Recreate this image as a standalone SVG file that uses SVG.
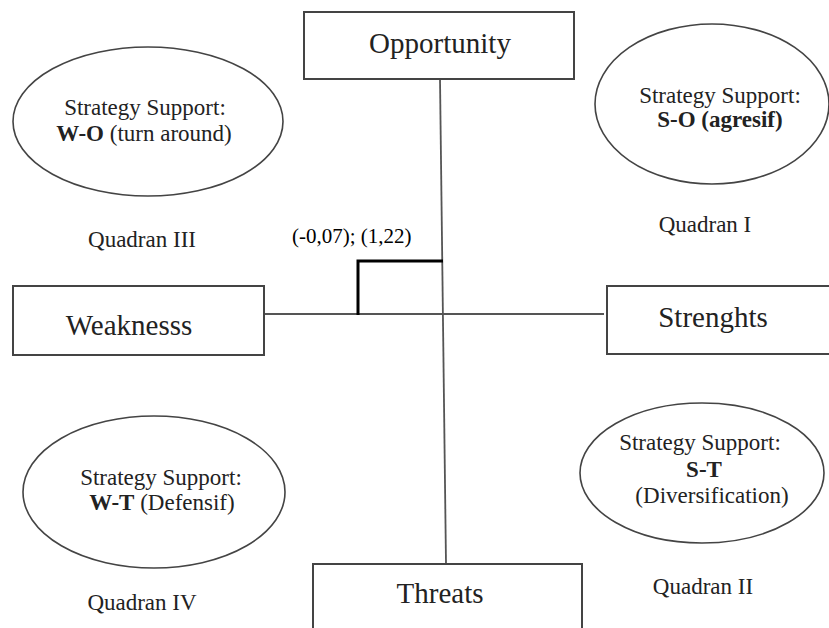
<svg xmlns="http://www.w3.org/2000/svg" width="829" height="628" viewBox="0 0 829 628">
<style>
.box{fill:#fff;stroke:#444;stroke-width:2}
.ell{fill:none;stroke:#444;stroke-width:1.6}
.axis{stroke:#555;stroke-width:1.8;fill:none}
.f{font-family:"Liberation Serif",Tinos,"Times New Roman","DejaVu Serif",serif}
.lbl{font-size:29px;fill:#222;text-anchor:middle}
.st{font-size:23px;fill:#222;text-anchor:middle}
.q{font-size:23px;fill:#222;text-anchor:middle}
.b{font-weight:bold}
</style>
<rect width="829" height="628" fill="#fff"/>
<g id="connectors">
<line class="axis" x1="440" y1="79" x2="446" y2="564"/>
<line class="axis" x1="258" y1="314" x2="604" y2="314"/>
<path d="M358,315 V261 H443" fill="none" stroke="#000" stroke-width="3"/>
</g>
<g id="opportunity">
<rect class="box" x="304" y="12" width="270" height="67"/>
<text class="f lbl" x="440" y="53">Opportunity</text>
</g>
<g id="weakness">
<rect class="box" x="13" y="286" width="251" height="69"/>
<text class="f lbl" x="129" y="335">Weaknesss</text>
</g>
<g id="strenghts">
<rect class="box" x="607" y="286" width="240" height="68"/>
<text class="f lbl" x="713" y="327">Strenghts</text>
</g>
<g id="threats">
<rect class="box" x="313" y="564" width="269" height="80"/>
<text class="f lbl" x="440" y="603">Threats</text>
</g>
<g id="wo">
<ellipse class="ell" cx="148" cy="121.5" rx="135" ry="74.5"/>
<text class="f st" x="145" y="115">Strategy Support:</text>
<text class="f st" x="144" y="141"><tspan class="b">W-O</tspan> (turn around)</text>
</g>
<g id="so">
<ellipse class="ell" cx="712" cy="104" rx="117" ry="80"/>
<text class="f st" x="720" y="103">Strategy Support:</text>
<text class="f st b" x="720" y="127">S-O (agresif)</text>
</g>
<g id="wt">
<ellipse class="ell" cx="154" cy="492" rx="131" ry="76"/>
<text class="f st" x="161" y="485">Strategy Support:</text>
<text class="f st" x="162" y="510"><tspan class="b">W-T</tspan> (Defensif)</text>
</g>
<g id="st">
<ellipse class="ell" cx="702" cy="473" rx="122" ry="70"/>
<text class="f st" x="700" y="450">Strategy Support:</text>
<text class="f st b" x="704" y="477">S-T</text>
<text class="f st" x="712" y="503">(Diversification)</text>
</g>
<g id="quadrants">
<text class="f q" x="142" y="247">Quadran III</text>
<text class="f q" x="705" y="232">Quadran I</text>
<text class="f q" x="142" y="610">Quadran IV</text>
<text class="f q" x="703" y="594">Quadran II</text>
</g>
<g id="coord">
<text class="f" x="292" y="243" font-size="21" fill="#000">(-0,07); (1,22)</text>
</g>
</svg>
